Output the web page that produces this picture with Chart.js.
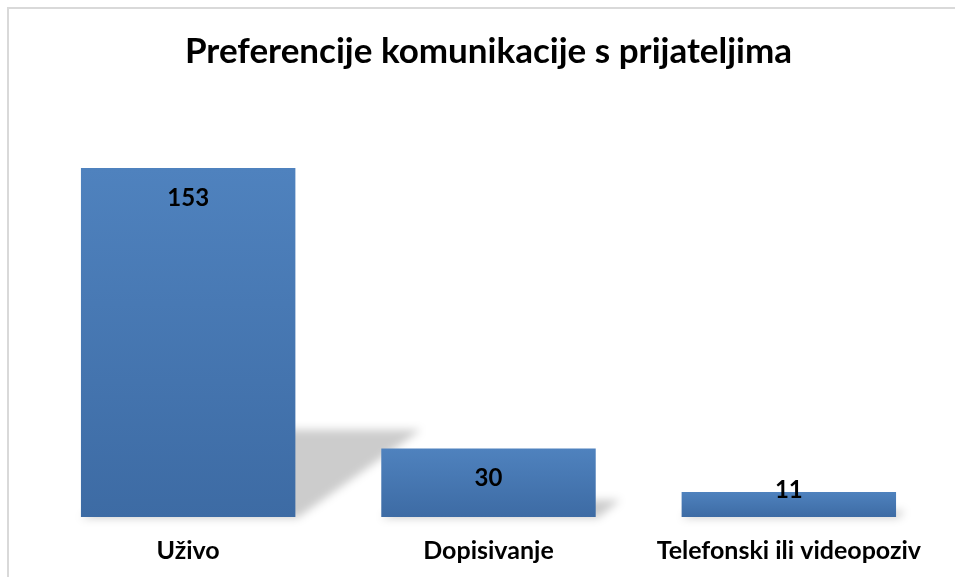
<!DOCTYPE html>
<html>
<head>
<meta charset="utf-8">
<script src="https://cdn.jsdelivr.net/npm/chart.js@4.4.1/dist/chart.umd.min.js"></script>
<style>
  html, body { margin: 0; padding: 0; background: #ffffff; }
  #wrap { position: relative; width: 955px; height: 577px; overflow: hidden; }
  #frame { position: absolute; left: 7px; top: 7px; width: 1000px; height: 700px; border: 2px solid #d9d9d9; box-sizing: border-box; }
  canvas { position: absolute; left: 0; top: 0; }
</style>
</head>
<body>
<div id="wrap">
  <div id="frame"></div>
  <canvas id="c" width="955" height="577"></canvas>
</div>
<script>
const titleText = 'Preferencije komunikacije s prijateljima';
const categories = ['Uživo', 'Dopisivanje', 'Telefonski ili videopoziv'];
const values = [153, 30, 11];
const FONT = 'Lato, "Open Sans", sans-serif';

function barGradient(ctx) {
  const chart = ctx.chart;
  const ys = chart.scales && chart.scales.y;
  if (!ys || !chart.chartArea) return '#4a7bb7';
  const v = ctx.raw;
  const top = ys.getPixelForValue(v);
  const bottom = ys.getPixelForValue(0);
  if (!isFinite(top) || !isFinite(bottom) || top === bottom) return '#4a7bb7';
  const g = chart.ctx.createLinearGradient(0, top, 0, bottom);
  g.addColorStop(0, '#4f82be');
  g.addColorStop(1, '#3d6ba4');
  return g;
}

const shadowPlugin = {
  id: 'perspShadow',
  beforeDatasetsDraw(chart) {
    const ctx = chart.ctx;
    const meta = chart.getDatasetMeta(0);
    ctx.save();
    ctx.filter = 'blur(4px)';
    ctx.fillStyle = 'rgba(0,0,0,0.2)';
    meta.data.forEach(el => {
      const h = el.base - el.y;
      const l = el.x - el.width / 2, r = el.x + el.width / 2;
      const dx = h * 0.36, dy = h * 0.25;
      ctx.beginPath();
      ctx.moveTo(l, el.base + 1);
      ctx.lineTo(r + 2, el.base + 1);
      ctx.lineTo(r + dx, el.base - dy);
      ctx.lineTo(l + dx, el.base - dy);
      ctx.closePath();
      ctx.fill();
    });
    ctx.restore();
  }
};

const labelPlugin = {
  id: 'valueLabels',
  afterDatasetsDraw(chart) {
    const ctx = chart.ctx;
    const meta = chart.getDatasetMeta(0);
    ctx.save();
    ctx.font = 'bold 24px ' + FONT;
    ctx.fillStyle = '#000000';
    ctx.textAlign = 'center';
    ctx.textBaseline = 'middle';
    meta.data.forEach((el, i) => {
      const y = Math.min(el.y + 30, el.base - 27);
      ctx.fillText(String(values[i]), el.x, y);
    });
    ctx.restore();
  }
};

new Chart(document.getElementById('c'), {
  type: 'bar',
  data: {
    labels: categories,
    datasets: [{
      data: values,
      backgroundColor: barGradient,
      borderWidth: 0,
      barPercentage: 1.0,
      categoryPercentage: 0.714
    }]
  },
  options: {
    responsive: false,
    animation: false,
    events: [],
    layout: { padding: { left: 38, right: 16, top: 7, bottom: 11 } },
    plugins: {
      legend: { display: false },
      tooltip: { enabled: false },
      title: {
        display: true,
        text: titleText,
        color: '#000000',
        font: { family: FONT, size: 35, weight: 'bold', lineHeight: 1.2 },
        padding: { top: 24, bottom: 79 }
      }
    },
    scales: {
      x: {
        grid: { display: false, drawTicks: false },
        border: { display: false },
        ticks: {
          color: '#000000',
          padding: 19,
          maxRotation: 0,
          autoSkip: false,
          font: { family: FONT, size: 25, weight: 'bold', lineHeight: 1.2 }
        },
        afterFit(scale) { scale.height = 49; }
      },
      y: {
        display: false,
        min: 0,
        max: 160
      }
    }
  },
  plugins: [shadowPlugin, labelPlugin]
});
</script>
</body>
</html>
